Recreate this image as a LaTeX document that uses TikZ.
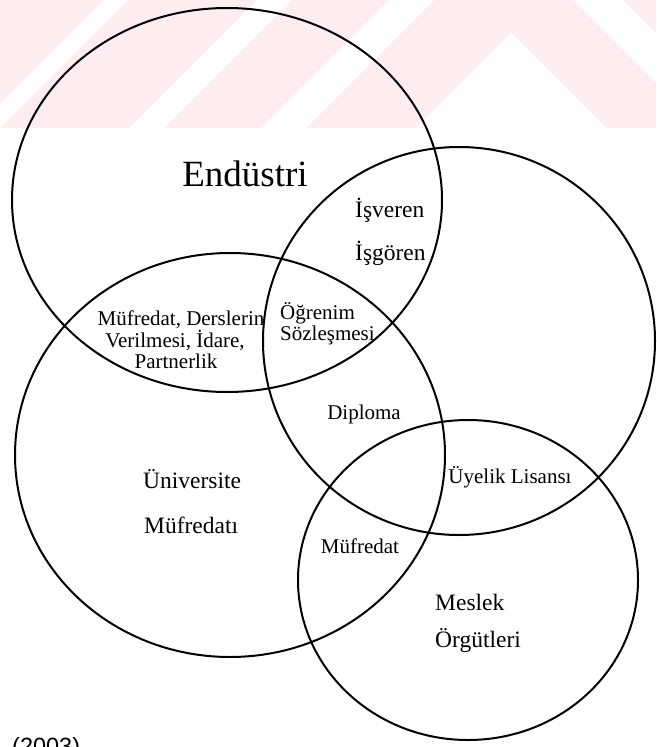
\documentclass[tikz,border=0pt]{standalone}
\usepackage{fontspec}
\setmainfont{Liberation Serif}
\newfontfamily\yearfont{Liberation Sans}
\definecolor{wmpink}{RGB}{253,236,240}
\begin{document}
\begin{tikzpicture}[x=1pt,y=-1pt,
  ring/.style={line width=2pt, draw=black},
  titlelabel/.style={font=\fontsize{37}{40}\selectfont, inner sep=0pt},
  biglabel/.style={font=\fontsize{23.5}{26}\selectfont, inner sep=0pt},
  smalllabel/.style={font=\fontsize{21}{23}\selectfont, inner sep=0pt},
]
\path[use as bounding box] (0,0) rectangle (656,747);
\begin{scope}
\clip (0,0) rectangle (656,747);

% faint striped band at the top
\fill[wmpink] (0,0) rectangle (656,128);
\fill[white] (104,0) -- (128,0) -- (0,128) -- (0,104) -- cycle;
\fill[white] (257,0) -- (292,0) -- (164,128) -- (129,128) -- cycle;
\fill[white] (389,0) -- (434,0) -- (306,128) -- (261,128) -- cycle;
\fill[white] (416,128) -- (511,33) -- (606,128) -- cycle;
\fill[white] (573,0) -- (623,0) -- (656,33) -- (656,83) -- cycle;

% the four sets
\draw[ring] (227,200) ellipse [x radius=215pt, y radius=192pt];
\draw[ring] (459,341) ellipse [x radius=196pt, y radius=194pt];
\draw[ring] (230,455) ellipse [x radius=215pt, y radius=202pt];
\draw[ring] (468,580) ellipse [x radius=170pt, y radius=160pt];

% set names
\node[titlelabel, anchor=base] (endustri) at (245,186) {Endüstri};
\node[biglabel, anchor=base west] (universite) at (143,488) {Üniversite};
\node[biglabel, anchor=base west] (mufredati) at (144,533) {Müfredatı};
\node[biglabel, anchor=base west] (meslek) at (435,610) {Meslek};
\node[biglabel, anchor=base west] (orgutleri) at (435,647) {Örgütleri};

% overlaps
\node[biglabel, anchor=base west] (isveren) at (355,217) {İşveren};
\node[biglabel, anchor=base west] (isgoren) at (355,260) {İşgören};
\node[smalllabel, anchor=base] (mufA) at (181,325) {Müfredat, Derslerin};
\node[smalllabel, anchor=base] (mufB) at (175,347) {Verilmesi, İdare,};
\node[smalllabel, anchor=base] (mufC) at (176,368) {Partnerlik};
\node[smalllabel, anchor=base west] (ogrA) at (280,319) {Öğrenim};
\node[smalllabel, anchor=base west] (ogrB) at (280,340) {Sözleşmesi};
\node[smalllabel, anchor=base] (diploma) at (364,419) {Diploma};
\node[smalllabel, anchor=base] (uyelik) at (510,483) {Üyelik Lisansı};
\node[smalllabel, anchor=base] (mufredat) at (360,553) {Müfredat};

% year, cut by the lower edge
\node[font=\yearfont\fontsize{23.5}{26}\selectfont, inner sep=0pt, anchor=base west] (year) at (12,754) {(2003)};
\end{scope}
\end{tikzpicture}
\end{document}
